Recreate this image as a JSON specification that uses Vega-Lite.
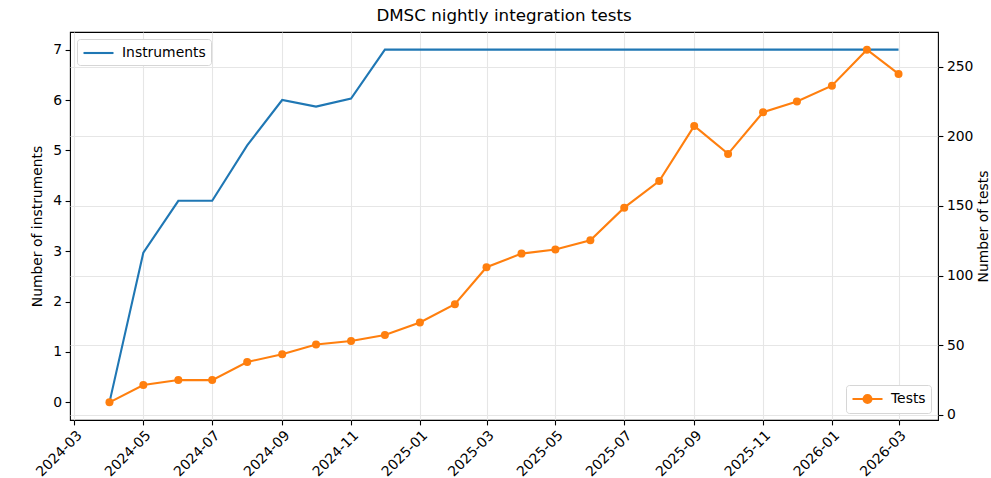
{
  "$schema": "https://vega.github.io/schema/vega-lite/v6.json",
  "width": 868,
  "height": 388,
  "autosize": {"type": "none"},
  "padding": {"left": 70, "top": 32, "right": 53, "bottom": 58},
  "title": {"text": "DMSC nightly integration tests", "fontSize": 16.7, "fontWeight": "normal", "font": "DejaVu Sans", "color": "#000", "offset": 7},
  "config": {
    "font": "DejaVu Sans",
    "view": {"stroke": "#000", "strokeWidth": 1.1},
    "axis": {
      "labelFontSize": 13.9, "titleFontSize": 13.9, "labelColor": "#000", "titleColor": "#000",
      "titleFontWeight": "normal", "labelFont": "DejaVu Sans", "titleFont": "DejaVu Sans",
      "domain": false, "tickColor": "#000", "tickSize": 4.9, "tickWidth": 1.1,
      "gridColor": "#e6e6e6", "gridWidth": 1.1, "labelPadding": 3.5
    },
    "legend": {
      "labelFontSize": 13.9, "labelColor": "#000", "labelFont": "DejaVu Sans",
      "fillColor": "white", "strokeColor": "#d6d6d6", "cornerRadius": 3, "padding": 5, "labelOffset": 22
    }
  },
  "data": {"values": [
    {"date": "2024-04-01", "instruments": 0, "tests": 9},
    {"date": "2024-05-01", "instruments": 2.97, "tests": 21.5},
    {"date": "2024-06-01", "instruments": 4, "tests": 25},
    {"date": "2024-07-01", "instruments": 4, "tests": 25},
    {"date": "2024-08-01", "instruments": 5.1, "tests": 38},
    {"date": "2024-09-01", "instruments": 6, "tests": 43.5},
    {"date": "2024-10-01", "instruments": 5.87, "tests": 50.6},
    {"date": "2024-11-01", "instruments": 6.03, "tests": 53},
    {"date": "2024-12-01", "instruments": 7, "tests": 57.3},
    {"date": "2025-01-01", "instruments": 7, "tests": 66.4},
    {"date": "2025-02-01", "instruments": 7, "tests": 79.5},
    {"date": "2025-03-01", "instruments": 7, "tests": 106},
    {"date": "2025-04-01", "instruments": 7, "tests": 115.8},
    {"date": "2025-05-01", "instruments": 7, "tests": 118.7},
    {"date": "2025-06-01", "instruments": 7, "tests": 125.4},
    {"date": "2025-07-01", "instruments": 7, "tests": 148.8},
    {"date": "2025-08-01", "instruments": 7, "tests": 167.9},
    {"date": "2025-09-01", "instruments": 7, "tests": 207.5},
    {"date": "2025-10-01", "instruments": 7, "tests": 187.4},
    {"date": "2025-11-01", "instruments": 7, "tests": 217.3},
    {"date": "2025-12-01", "instruments": 7, "tests": 225},
    {"date": "2026-01-01", "instruments": 7, "tests": 236.4},
    {"date": "2026-02-01", "instruments": 7, "tests": 262.2},
    {"date": "2026-03-01", "instruments": 7, "tests": 244.8}
  ]},
  "encoding": {
    "x": {
      "field": "date", "type": "temporal",
      "scale": {"type": "utc", "domain": [{"year": 2024, "month": 2, "date": 26, "hours": 1, "utc": true}, {"year": 2026, "month": 4, "date": 4, "hours": 23, "utc": true}], "nice": false},
      "axis": {"title": null, "format": "%Y-%m", "tickCount": {"interval": "month", "step": 2}, "labelAngle": -45, "labelAlign": "right", "labelBaseline": "top", "grid": true, "labelPadding": 3}
    }
  },
  "layer": [
    {
      "mark": {"type": "line", "strokeWidth": 2.1},
      "encoding": {
        "y": {"field": "instruments", "type": "quantitative",
          "scale": {"domain": [-0.35, 7.35], "nice": false, "zero": false},
          "axis": {"orient": "left", "title": "Number of instruments", "values": [0, 1, 2, 3, 4, 5, 6, 7], "grid": false, "titlePadding": 8}},
        "color": {"datum": "Instruments", "type": "nominal",
          "scale": {"range": ["#1f77b4"]},
          "legend": {"title": null, "orient": "top-left", "offset": 7, "symbolType": "M-1,0L3,0", "symbolSize": 225, "symbolStrokeWidth": 2.1, "symbolStrokeColor": "#1f77b4"}}
      }
    },
    {
      "mark": {"type": "line", "strokeWidth": 2.1, "point": {"filled": true, "size": 64}},
      "encoding": {
        "y": {"field": "tests", "type": "quantitative",
          "scale": {"domain": [-3.66, 274.9], "nice": false, "zero": false},
          "axis": {"orient": "right", "title": "Number of tests", "values": [0, 50, 100, 150, 200, 250], "grid": true, "titleAngle": 270, "titleBaseline": "top", "titlePadding": 4}},
        "color": {"datum": "Tests", "type": "nominal",
          "scale": {"range": ["#ff7f0e"]},
          "legend": {"title": null, "orient": "bottom-right", "offset": 7,
            "symbolType": "M-1,0L3,0M0.47,0A0.53,0.53 0 1,0 1.53,0A0.53,0.53 0 1,0 0.47,0Z",
            "symbolSize": 225, "symbolStrokeWidth": 2.1, "symbolFillColor": "#ff7f0e", "symbolStrokeColor": "#ff7f0e"}}
      }
    }
  ],
  "resolve": {"scale": {"y": "independent", "color": "independent"}}
}
